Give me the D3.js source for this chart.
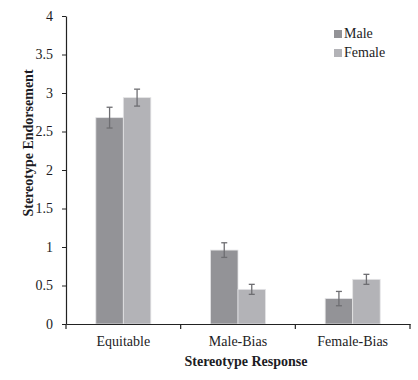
<!DOCTYPE html>
<html><head><meta charset="utf-8">
<script src="https://cdn.jsdelivr.net/npm/d3@7"></script>
<style>body{margin:0;background:#fff}svg{display:block}text{font-family:"Liberation Serif","Times New Roman",serif;fill:#1c1c24}</style>
</head><body>
<script>
const categories = ["Equitable", "Male-Bias", "Female-Bias"];
const seriesNames = ["Male", "Female"];
const maleValues = [2.68, 0.96, 0.33];
const femaleValues = [2.94, 0.45, 0.58];
const maleErrors = [0.135, 0.095, 0.093];
const femaleErrors = [0.11, 0.065, 0.065];
const yTicks = [0, 0.5, 1, 1.5, 2, 2.5, 3, 3.5, 4];
const colors = ["#939397", "#b3b3b7"];

const W = 418, H = 380;
const m = {left: 66, right: 8, top: 16, bottom: 56};
const svg = d3.select("body").append("svg").attr("width", W).attr("height", H);
const x = d3.scaleBand().domain(categories).range([m.left, W - m.right]).paddingInner(0).paddingOuter(0);
const y = d3.scaleLinear().domain([0, 4]).range([H - m.bottom, m.top]);
const sub = d3.scaleBand().domain(seriesNames).range([0, 55]);
const offset = (x.bandwidth() - 55) / 2;

const data = categories.map((c, i) => ({c, vals: [
  {s: "Male", v: maleValues[i], e: maleErrors[i]},
  {s: "Female", v: femaleValues[i], e: femaleErrors[i]}]}));

const g = svg.append("g");
const grp = g.selectAll("g.grp").data(data).join("g").attr("transform", d => `translate(${x(d.c) + offset},0)`);
grp.selectAll("rect").data(d => d.vals).join("rect")
  .attr("x", d => sub(d.s)).attr("width", sub.bandwidth())
  .attr("y", d => y(d.v)).attr("height", d => y(0) - y(d.v))
  .attr("fill", (d, i) => colors[i]).attr("stroke", "#e4e4e6").attr("stroke-width", 0.8);
const eb = grp.selectAll("g.eb").data(d => d.vals).join("g")
  .attr("transform", d => `translate(${sub(d.s) + sub.bandwidth() / 2},0)`)
  .attr("stroke", "#6e6e72").attr("stroke-width", 1.3);
eb.append("line").attr("y1", d => y(d.v + d.e)).attr("y2", d => y(d.v - d.e));
eb.append("line").attr("x1", -3).attr("x2", 3).attr("y1", d => y(d.v + d.e)).attr("y2", d => y(d.v + d.e));
eb.append("line").attr("x1", -3).attr("x2", 3).attr("y1", d => y(d.v - d.e)).attr("y2", d => y(d.v - d.e));

// y axis
const ya = svg.append("g").attr("transform", `translate(${m.left},0)`)
  .call(d3.axisLeft(y).tickValues(yTicks).tickFormat(d => String(d)).tickSize(4).tickSizeOuter(0));
ya.select(".domain").attr("stroke", "#222").attr("stroke-width", 1.2);
ya.selectAll(".tick line").attr("stroke", "#222");
ya.selectAll(".tick text").attr("font-size", 14).attr("font-family", "Liberation Serif").attr("x", -13).attr("fill", "#1c1c24");

// x axis
const xa = svg.append("g").attr("transform", `translate(0,${y(0)})`)
  .call(d3.axisBottom(x).tickSize(0).tickSizeOuter(0));
xa.select(".domain").attr("stroke", "#222").attr("stroke-width", 1.2);
xa.selectAll(".tick text").attr("font-size", 14).attr("font-family", "Liberation Serif").attr("dy", "1.35em").attr("fill", "#1c1c24");
const bounds = categories.map(c => x(c)).concat([x(categories[categories.length - 1]) + x.bandwidth()]);
svg.append("g").selectAll("line").data(bounds).join("line")
  .attr("x1", d => d).attr("x2", d => d).attr("y1", y(0)).attr("y2", y(0) + 5)
  .attr("stroke", "#222").attr("stroke-width", 1.2);

svg.append("text").attr("x", (m.left + W - m.right) / 2 + 8).attr("y", 366)
  .attr("text-anchor", "middle").attr("font-size", 14).attr("font-weight", "bold").text("Stereotype Response");
svg.append("text").attr("transform", `translate(33,143) rotate(-90)`)
  .attr("text-anchor", "middle").attr("font-size", 14).attr("font-weight", "bold").text("Stereotype Endorsement");

// legend
const lg = svg.append("g").attr("transform", "translate(334,30)");
const li = lg.selectAll("g").data(seriesNames).join("g").attr("transform", (d, i) => `translate(0,${i * 19})`);
li.append("rect").attr("width", 8).attr("height", 8).attr("fill", (d, i) => colors[i]);
li.append("text").attr("x", 10).attr("y", 8).attr("font-size", 14).text(d => d);
</script>
</body></html>
